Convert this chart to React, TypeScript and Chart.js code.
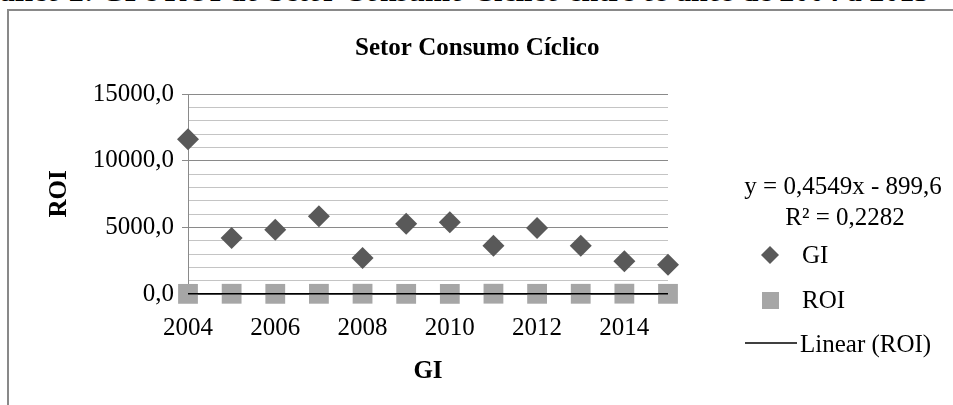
import React, { useEffect, useRef } from "react";
import { Chart, registerables } from "chart.js";

Chart.register(...registerables);

// ---- data ----
const years: number[] = [2004, 2005, 2006, 2007, 2008, 2009, 2010, 2011, 2012, 2013, 2014, 2015];
const giValues: number[] = [11600, 4200, 4825, 5825, 2700, 5275, 5375, 3625, 4950, 3625, 2450, 2200];
const roiValues: number[] = [10, 18, 12, 15, 20, 11, 9, 22, 14, 16, 24, 13];
const trendSlope = 0.4549;
const trendIntercept = -899.6;
const xTickValues: number[] = [2004, 2006, 2008, 2010, 2012, 2014];
const yMajorStep = 5000;
const yMinorStep = 1000;
const yMin = 0;
const yMax = 15000;

const captionText = "Gráfico 2: GI e ROI do Setor Consumo Cíclico entre os anos de 2004 a 2015";
const chartTitle = "Setor Consumo Cíclico";
const yAxisTitle = "ROI";
const xAxisTitle = "GI";
const equationText = "y = 0,4549x - 899,6";
const r2Text = "R² = 0,2282";
const legendLabels: string[] = ["GI", "ROI", "Linear (ROI)"];

const SERIF = '"Liberation Serif", "Times New Roman", serif';
const GI_COLOR = "#595959";
const ROI_COLOR = "#a6a6a6";
const MAJOR_GRID = "#8a8a8a";
const MINOR_GRID = "#c4c4c4";

const fmt = (v: number) => v.toFixed(1).replace(".", ",");

const overlayPlugin = {
  id: "overlayText",
  afterDraw(chart: any) {
    const ctx = chart.ctx as CanvasRenderingContext2D;
    const area = chart.chartArea;
    ctx.save();
    ctx.fillStyle = "#000";
    // title
    ctx.font = `bold 25px ${SERIF}`;
    ctx.textAlign = "left";
    ctx.textBaseline = "alphabetic";
    ctx.fillText(chartTitle, 355, 55);
    // x axis title
    ctx.textAlign = "center";
    ctx.fillText(xAxisTitle, (area.left + area.right) / 2, 378);
    // y axis title
    ctx.save();
    ctx.translate(66, (area.top + area.bottom) / 2);
    ctx.rotate(-Math.PI / 2);
    ctx.fillText(yAxisTitle, 0, 0);
    ctx.restore();
    // equation
    ctx.font = `25px ${SERIF}`;
    ctx.textAlign = "center";
    ctx.fillText(equationText, 843, 194);
    ctx.fillText(r2Text, 845, 225);
    // legend
    ctx.textAlign = "left";
    // GI diamond
    ctx.fillStyle = GI_COLOR;
    ctx.beginPath();
    ctx.moveTo(770, 246);
    ctx.lineTo(779, 255);
    ctx.lineTo(770, 264);
    ctx.lineTo(761, 255);
    ctx.closePath();
    ctx.fill();
    // ROI square
    ctx.fillStyle = ROI_COLOR;
    ctx.fillRect(762, 292, 17, 17);
    // linear line
    ctx.strokeStyle = "#000";
    ctx.lineWidth = 1.5;
    ctx.beginPath();
    ctx.moveTo(745, 343);
    ctx.lineTo(797, 343);
    ctx.stroke();
    ctx.fillStyle = "#000";
    ctx.fillText(legendLabels[0], 802, 263);
    ctx.fillText(legendLabels[1], 802, 308);
    ctx.fillText(legendLabels[2], 800, 352);
    ctx.restore();
  },
};

export default function App() {
  const canvasRef = useRef<HTMLCanvasElement | null>(null);

  useEffect(() => {
    if (!canvasRef.current) return;
    const giData = years.map((x, i) => ({ x, y: giValues[i] }));
    const roiData = years.map((x, i) => ({ x, y: roiValues[i] }));
    const x0 = years[0];
    const x1 = years[years.length - 1];
    const trendData = [
      { x: x0, y: trendSlope * x0 + trendIntercept },
      { x: x1, y: trendSlope * x1 + trendIntercept },
    ];

    const chart = new Chart(canvasRef.current, {
      type: "scatter",
      data: {
        datasets: [
          {
            label: legendLabels[2],
            data: trendData,
            showLine: true,
            borderColor: "#000",
            borderWidth: 1.5,
            pointRadius: 0,
            order: 0,
            clip: false,
          } as any,
          {
            label: legendLabels[1],
            data: roiData,
            pointStyle: "rect",
            pointRadius: 14,
            backgroundColor: ROI_COLOR,
            borderColor: ROI_COLOR,
            borderWidth: 0,
            order: 1,
            clip: false,
          } as any,
          {
            label: legendLabels[0],
            data: giData,
            pointStyle: "rectRot",
            pointRadius: 11,
            backgroundColor: GI_COLOR,
            borderColor: GI_COLOR,
            borderWidth: 0,
            order: 2,
            clip: false,
          } as any,
        ],
      },
      options: {
        animation: false,
        responsive: false,
        devicePixelRatio: 1,
        layout: { padding: { left: 88, right: 285, top: 94, bottom: 31 } },
        plugins: {
          legend: { display: false },
          title: { display: false },
          tooltip: { enabled: false },
        },
        scales: {
          x: {
            type: "linear",
            min: x0,
            max: x1,
            afterBuildTicks: (s: any) => {
              s.ticks = xTickValues.map((v) => ({ value: v }));
            },
            afterFit: (s: any) => {
              s.height = 80;
            },
            grid: { display: false, drawTicks: false },
            border: { display: true, color: MAJOR_GRID, width: 1 },
            ticks: {
              font: { family: SERIF, size: 25 },
              color: "#000",
              padding: 19,
              maxRotation: 0,
              autoSkip: false,
              callback: (v: any) => String(v),
            },
          },
          y: {
            min: yMin,
            max: yMax,
            afterFit: (s: any) => {
              s.width = 100;
            },
            grid: {
              color: (c: any) => (c.tick && c.tick.value % yMajorStep === 0 ? MAJOR_GRID : MINOR_GRID),
              tickColor: (c: any) => (c.tick && c.tick.value % yMajorStep === 0 ? MAJOR_GRID : "rgba(0,0,0,0)"),
              tickLength: 6,
              lineWidth: 1,
            },
            border: { display: true, color: MAJOR_GRID, width: 1 },
            ticks: {
              stepSize: yMinorStep,
              autoSkip: false,
              font: { family: SERIF, size: 25 },
              color: "#000",
              padding: 8,
              callback: (v: any) => (Number(v) % yMajorStep === 0 ? fmt(Number(v)) : ""),
            },
          },
        },
      } as any,
      plugins: [overlayPlugin],
    });
    return () => chart.destroy();
  }, []);

  return (
    <div style={{ position: "absolute", left: 0, top: 0, width: 953, height: 405, overflow: "hidden", background: "#fff" }}>
      <div
        style={{
          position: "absolute",
          left: -37,
          top: -24,
          whiteSpace: "nowrap",
          font: `bold 30px ${SERIF}`,
          lineHeight: "30px",
          color: "#000",
        }}
      >
        {captionText}
      </div>
      <div
        style={{
          position: "absolute",
          left: 7,
          top: 9,
          width: 2000,
          height: 1000,
          border: "2px solid #898989",
          boxSizing: "border-box",
        }}
      />
      <canvas ref={canvasRef} width={953} height={405} style={{ position: "absolute", left: 0, top: 0 }} />
    </div>
  );
}
